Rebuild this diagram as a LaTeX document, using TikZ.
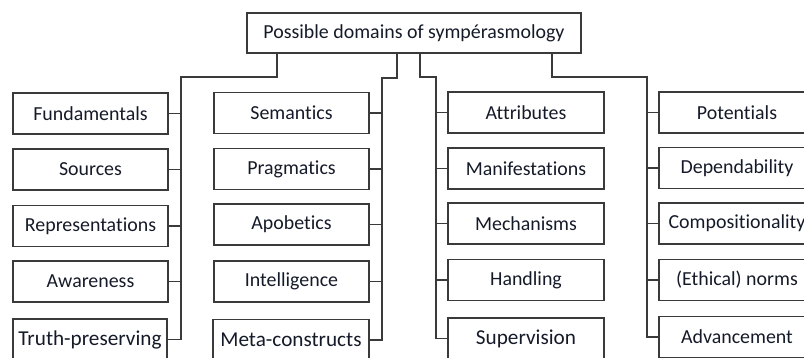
\documentclass[tikz,border=0pt]{standalone}
\usepackage{fontspec}
\setmainfont[Ligatures=NoCommon]{Carlito}
\begin{document}
\begin{tikzpicture}[x=1pt,y=-1pt,
  box/.style={draw=linec, line width=1.3pt, rectangle, inner sep=0pt, minimum height=41pt, text=textc, font=\fontsize{19.9}{24}\selectfont},
  wa/.style={box, minimum width=155pt},
  wb/.style={box, minimum width=156pt},
  big/.style={font=\fontsize{21.2}{25}\selectfont},
  link/.style={draw=linec, line width=1.3pt}]
\definecolor{linec}{HTML}{3A3A3A}
\definecolor{textc}{HTML}{141A28}
\useasboundingbox (0,0) rectangle (804,358);
\clip (0,0) rectangle (804,358);
\node[box, minimum width=334pt, minimum height=40pt] (top) at (414,33) {Possible domains of sympérasmology};
% column 1
\node[wa] (a1) at (90.5,113.5) {Fundamentals};
\node[wa] (a2) at (90.5,169.5) {Sources};
\node[wa] (a3) at (90.5,226) {Representations};
\node[wa] (a4) at (90.5,281.5) {Awareness};
\node[wa, big, minimum width=154pt] (a5) at (90,339.5) {Truth-preserving};
% column 2
\node[wa] (b1) at (291.5,113) {Semantics};
\node[wa] (b2) at (291.5,169) {Pragmatics};
\node[wa] (b3) at (291.5,224.5) {Apobetics};
\node[wa] (b4) at (291.5,281.5) {Intelligence};
\node[wa, big, minimum width=156pt] (b5) at (291,340) {Meta-constructs};
% column 3
\node[wb] (c1) at (526,112.5) {Attributes};
\node[wb] (c2) at (526,168.5) {Manifestations};
\node[wb] (c3) at (526,223.5) {Mechanisms};
\node[wb] (c4) at (526,280) {Handling};
\node[wb, big] (c5) at (526,338.5) {Supervision};
% column 4
\node[wb] (d1) at (737,112.5) {Potentials};
\node[wb] (d2) at (737,168) {Dependability};
\node[wb] (d3) at (737,223.5) {Compositionality};
\node[wb] (d4) at (737,280) {(Ethical) norms};
\node[wb] (d5) at (737,337) {Advancement};
% bus corners
\coordinate (p1) at (277,77);  \coordinate (q1) at (181,77);
\coordinate (p2) at (397,78);  \coordinate (q2) at (382,78);
\coordinate (p3) at (420,77);  \coordinate (q3) at (436,77);
\coordinate (p4) at (552,77);  \coordinate (q4) at (647,77);
\draw[link] (top.south -| p1) -- (p1) -- (q1) -- (q1 |- a5.east) -- (a5.east);
\draw[link] (top.south -| p2) -- (p2) -- (q2) -- (q2 |- b5.east) -- (b5.east);
\draw[link] (top.south -| p3) -- (p3) -- (q3) -- (q3 |- c5.west) -- (c5.west);
\draw[link] (top.south -| p4) -- (p4) -- (q4) -- (q4 |- d5.west) -- (d5.west);
\foreach \n in {1,2,3,4}{
  \draw[link] (a\n.east) -- (a\n.east -| q1);
  \draw[link] (b\n.east) -- (b\n.east -| q2);
  \draw[link] (c\n.west) -- (c\n.west -| q3);
  \draw[link] (d\n.west) -- (d\n.west -| q4);
}
\end{tikzpicture}
\end{document}
